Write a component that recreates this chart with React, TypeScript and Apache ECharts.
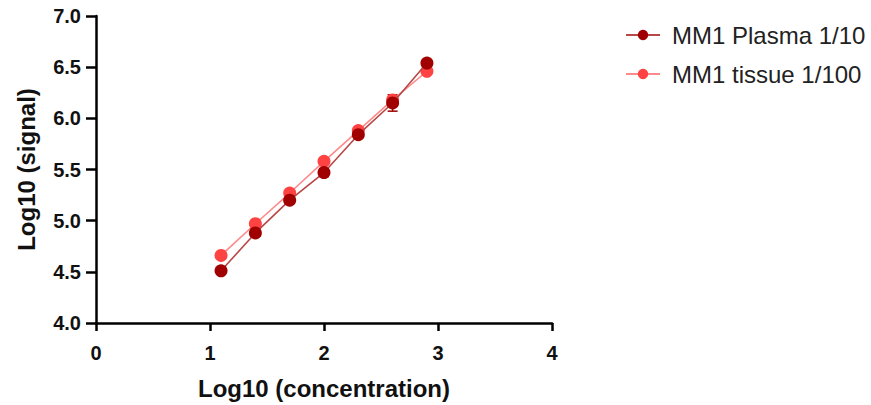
import React, { useEffect, useRef } from "react";
import * as echarts from "echarts";

const concentrationLog = [1.097, 1.398, 1.699, 2.0, 2.301, 2.602, 2.903];
const plasmaSignal = [4.51, 4.88, 5.2, 5.47, 5.84, 6.15, 6.54];
const plasmaError = [0.0, 0.02, 0.02, 0.04, 0.02, 0.08, 0.03];
const tissueSignal = [4.66, 4.97, 5.27, 5.58, 5.88, 6.18, 6.46];
const tissueError = [0.0, 0.0, 0.0, 0.0, 0.0, 0.02, 0.0];
const seriesNames = ["MM1 Plasma 1/10", "MM1 tissue 1/100"];
const xTitle = "Log10 (concentration)";
const yTitle = "Log10 (signal)";

const plasmaColor = "#A00000";
const plasmaLine = "#B84848";
const tissueColor = "#FF4242";
const tissueLine = "#FF8A8A";

function errorSeries(name: string, ys: number[], errs: number[], color: string) {
  const data = concentrationLog.map((x, i) => [x, ys[i] - errs[i], ys[i] + errs[i]]);
  return {
    type: "custom",
    name: name + " err",
    silent: true,
    z: 1,
    data,
    renderItem: (params: any, api: any) => {
      const x = api.value(0);
      const lo = api.coord([x, api.value(1)]);
      const hi = api.coord([x, api.value(2)]);
      const cap = 5;
      const style = { stroke: color, lineWidth: 1.5 };
      return {
        type: "group",
        children: [
          { type: "line", shape: { x1: lo[0], y1: lo[1], x2: hi[0], y2: hi[1] }, style },
          { type: "line", shape: { x1: lo[0] - cap, y1: lo[1], x2: lo[0] + cap, y2: lo[1] }, style },
          { type: "line", shape: { x1: hi[0] - cap, y1: hi[1], x2: hi[0] + cap, y2: hi[1] }, style },
        ],
      };
    },
  };
}

export default function App() {
  const ref = useRef<HTMLDivElement>(null);
  useEffect(() => {
    if (!ref.current) return;
    const chart = echarts.init(ref.current, null, { renderer: "svg" });
    const axisLabelStyle = {
      color: "#111",
      fontFamily: "Liberation Sans, Arial, sans-serif",
      fontWeight: "bold" as const,
      fontSize: 20,
    };
    chart.setOption({
      animation: false,
      backgroundColor: "#fff",
      grid: { left: 96, right: 319, top: 16, bottom: 82, containLabel: false },
      legend: {
        orient: "vertical",
        left: 620,
        top: 18,
        itemWidth: 34,
        itemHeight: 13,
        itemGap: 15,
        data: seriesNames,
        textStyle: {
          color: "#222",
          fontFamily: "Liberation Sans, Arial, sans-serif",
          fontSize: 24,
          padding: [0, 0, 0, 7],
        },
      },
      xAxis: {
        type: "value",
        min: 0,
        max: 4,
        interval: 1,
        name: xTitle,
        nameLocation: "middle",
        nameGap: 53,
        nameTextStyle: { ...axisLabelStyle, fontSize: 24 },
        axisLine: { show: true, onZero: false, lineStyle: { color: "#000", width: 2.5 } },
        axisTick: { show: true, length: 8, lineStyle: { color: "#000", width: 2.5 } },
        axisLabel: { ...axisLabelStyle, margin: 20 },
        splitLine: { show: false },
      },
      yAxis: {
        type: "value",
        min: 4,
        max: 7,
        interval: 0.5,
        name: yTitle,
        nameLocation: "middle",
        nameGap: 58,
        nameTextStyle: { ...axisLabelStyle, fontSize: 24 },
        axisLine: { show: true, onZero: false, lineStyle: { color: "#000", width: 2.5 } },
        axisTick: { show: true, length: 10, lineStyle: { color: "#000", width: 2.5 } },
        axisLabel: {
          ...axisLabelStyle,
          margin: 15,
          formatter: (v: number) => v.toFixed(1),
        },
        splitLine: { show: false },
      },
      series: [
        errorSeries(seriesNames[0], plasmaSignal, plasmaError, plasmaColor),
        errorSeries(seriesNames[1], tissueSignal, tissueError, tissueColor),
        {
          type: "line",
          name: seriesNames[1],
          z: 3,
          data: concentrationLog.map((x, i) => [x, tissueSignal[i]]),
          symbol: "circle",
          symbolSize: 13,
          itemStyle: { color: tissueColor },
          lineStyle: { color: tissueLine, width: 1.6 },
        },
        {
          type: "line",
          name: seriesNames[0],
          z: 4,
          data: concentrationLog.map((x, i) => [x, plasmaSignal[i]]),
          symbol: "circle",
          symbolSize: 13,
          itemStyle: { color: plasmaColor },
          lineStyle: { color: plasmaLine, width: 1.6 },
        },
      ],
    });
    return () => chart.dispose();
  }, []);
  return <div ref={ref} style={{ width: 871, height: 405, position: "absolute", left: 0, top: 0 }} />;
}
